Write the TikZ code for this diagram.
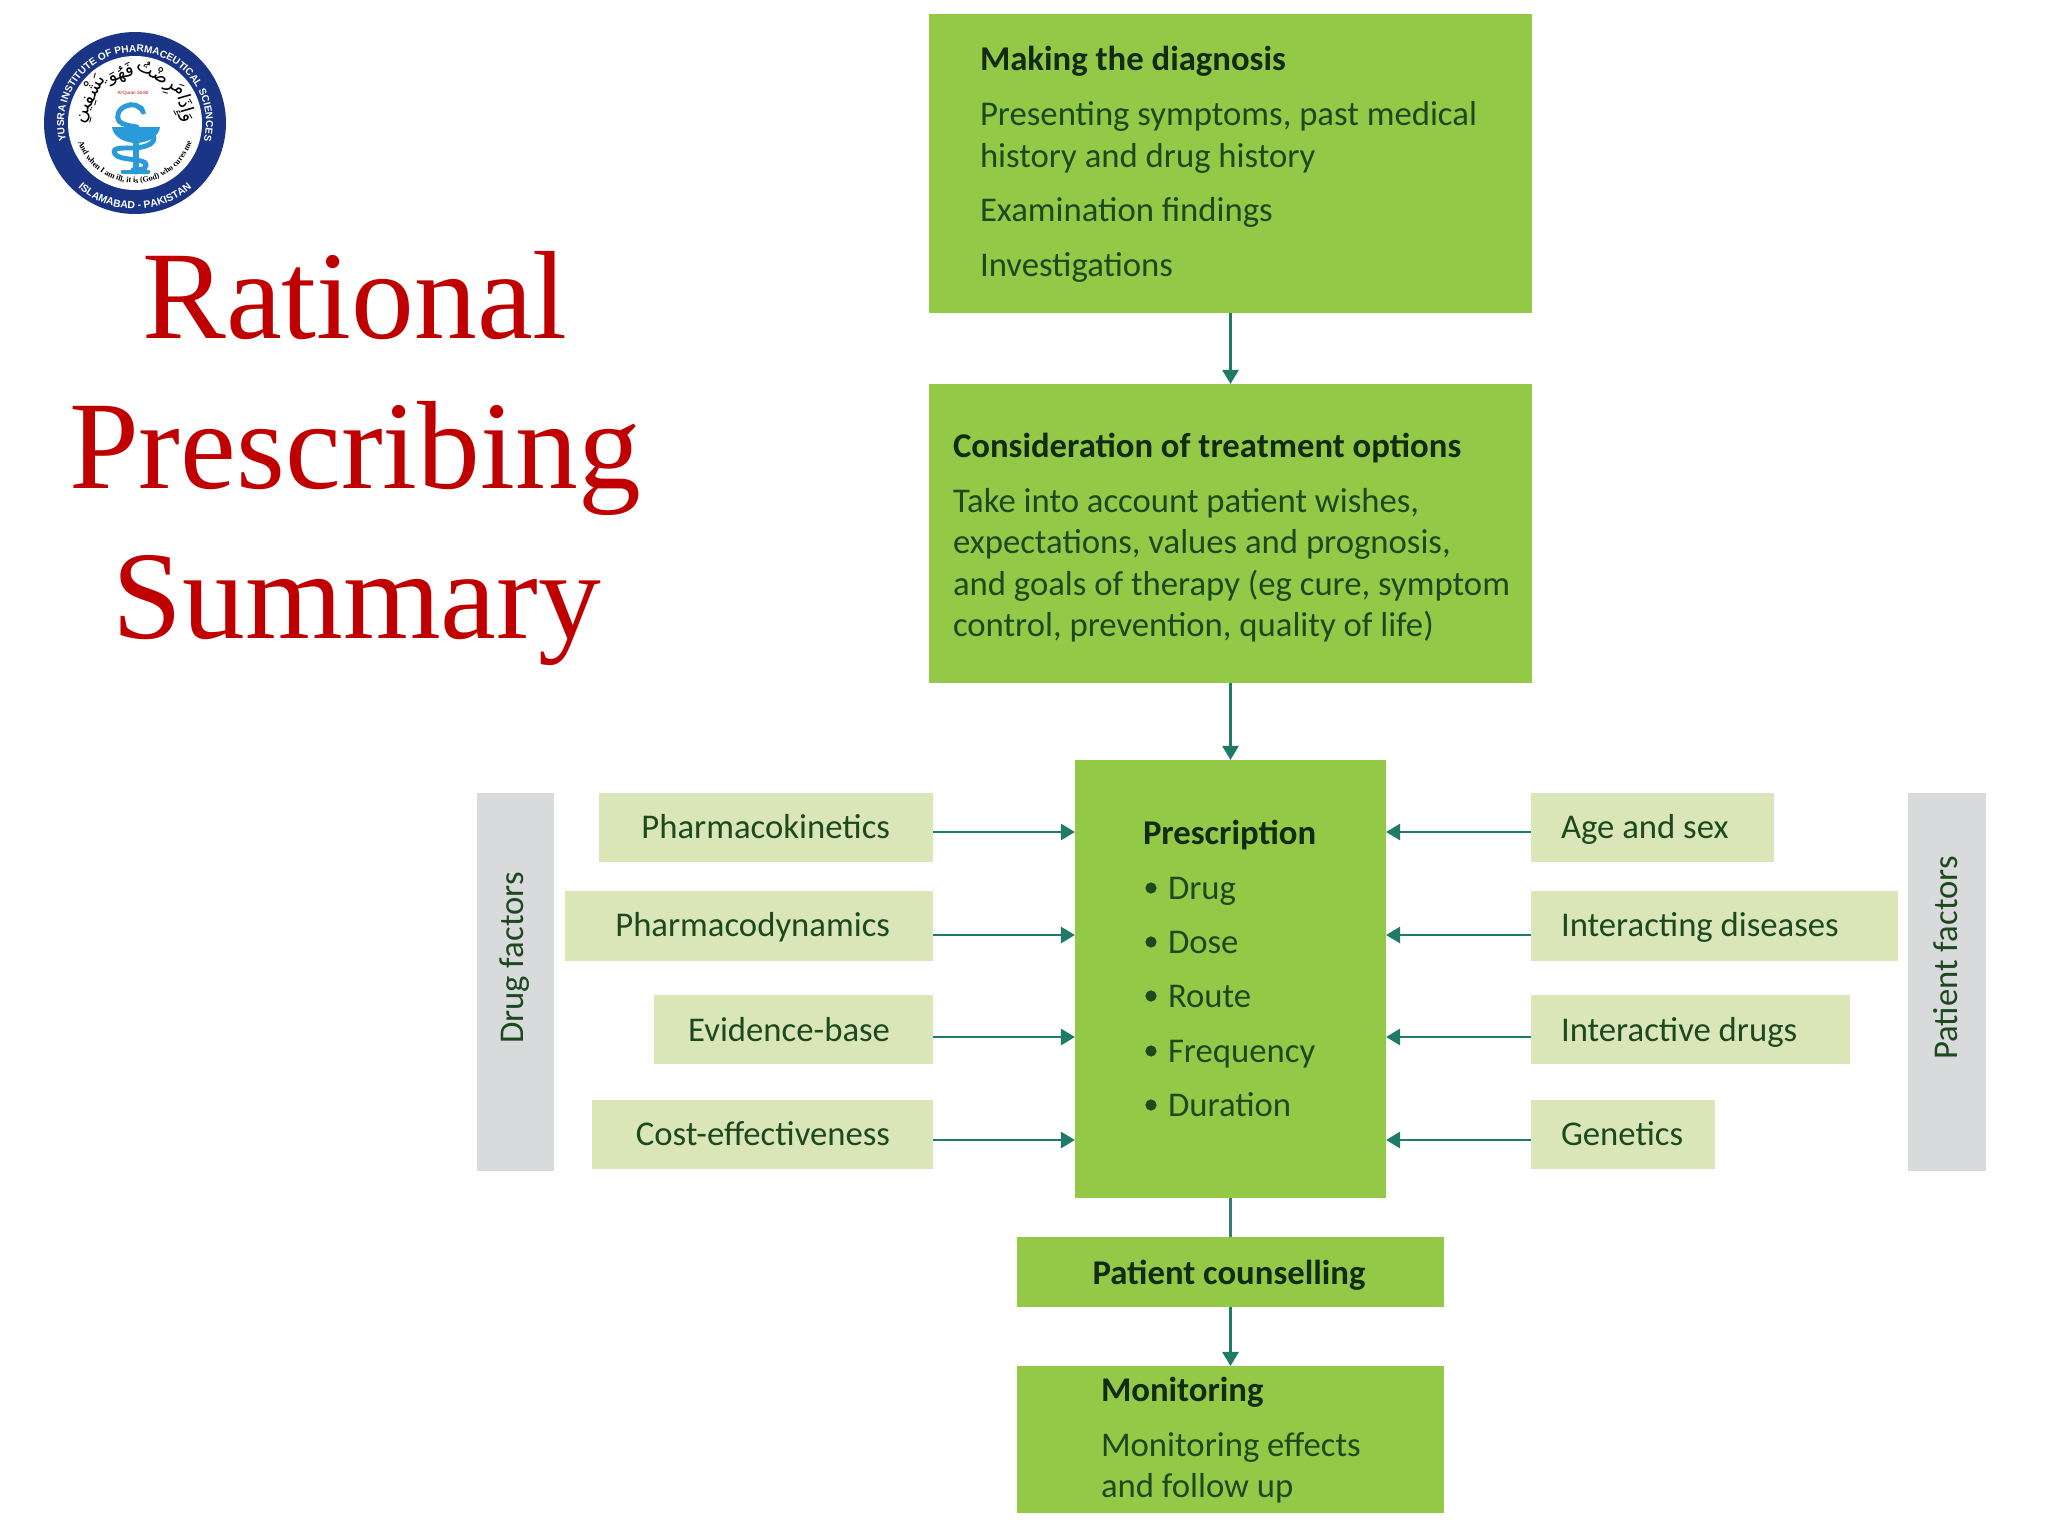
\documentclass[tikz,border=0pt]{standalone}
\usepackage{fontspec}
\usetikzlibrary{arrows.meta,decorations.text}
\setmainfont{Carlito}
\newfontfamily\titlefont{Liberation Serif}
\newfontfamily\logofont{Liberation Sans}
\newfontfamily\arabicfont[Script=Arabic]{DejaVu Sans}
\TeXXeTstate=1
\definecolor{boxgreen}{HTML}{94C948}
\definecolor{palegreen}{HTML}{DAE6B8}
\definecolor{sidegray}{HTML}{D9DADC}
\definecolor{inkgreen}{HTML}{1C4A1E}
\definecolor{arrowteal}{HTML}{1F7A68}
\definecolor{titlered}{HTML}{C00000}
\definecolor{logoblue}{HTML}{1A3585}
\definecolor{emblem}{HTML}{2A9BD8}
\tikzset{
  gbox/.style={fill=boxgreen,inner sep=0pt,outer sep=0pt},
  pbox/.style={fill=palegreen,inner sep=0pt,outer sep=0pt},
  sbox/.style={fill=sidegray,inner sep=0pt,outer sep=0pt},
  txt/.style={anchor=base west,inner sep=0pt,outer sep=0pt,text=inkgreen,font=\fontsize{9.87}{11.8}\selectfont},
  txte/.style={txt,anchor=base east},
  head/.style={txt,font=\fontsize{9.87}{11.8}\selectfont\bfseries,text=black!40!inkgreen},
  ttl/.style={anchor=base,inner sep=0pt,text=titlered,font=\titlefont\fontsize{35.7}{40}\selectfont},
  link/.style={draw=arrowteal,line width=0.75pt,-{Triangle[length=4pt,width=4.6pt]}},
  plainlink/.style={draw=arrowteal!70!gray,line width=1pt},
  snake/.style={emblem,line width=1.4pt,line cap=round},
}
\begin{document}
\begin{tikzpicture}[x=0.01cm,y=-0.01cm]
\useasboundingbox (0,0) rectangle (2048,1536);
\fill[white] (0,0) rectangle (2048,1536);
% logo
\begin{scope}[shift={(135,123)},x=0.01cm,y=0.01cm]
  \fill[logoblue] (0,0) circle (91);
  \fill[white] (0,0) circle (67);
  \path[decorate,decoration={text along path,text align=center,
    text={|\logofont\bfseries\fontsize{2.86}{3}\selectfont\color{white}|YUSRA INSTITUTE OF PHARMACEUTICAL SCIENCES}}]
    (200:71) arc[start angle=200,end angle=-20,radius=71];
  \path[decorate,decoration={text along path,text align=center,
    text={|\logofont\bfseries\fontsize{2.95}{3}\selectfont\color{white}|ISLAMABAD - PAKISTAN}}]
    (220:86) arc[start angle=220,end angle=320,radius=86];
  \path[decorate,decoration={text along path,text align=center,
    text={|\titlefont\bfseries\fontsize{2.3}{3}\selectfont\color{black}|And when I am ill, it is (God) who cures me}}]
    (190:60) arc[start angle=190,end angle=350,radius=60];
  \foreach \a/\w in {16/وَإِذَا,60/مَرِضْتُ,106/فَهُوَ,152/يَشْفِينِ}{
    \pgfmathsetmacro\rr{\a-90}
    \node[inner sep=0pt,rotate=\rr,font=\arabicfont\fontsize{5.2}{6}\selectfont] at (\a:51) {\beginR\w\endR};
  }
  \node[inner sep=0pt,text=red!80!black,font=\logofont\fontsize{1.3}{2}\selectfont] at (-2,30) {Al-Quran 26:80};
  % emblem
  \draw[snake,line width=1.5pt] (1,-20) -- (1,-49);
  \draw[snake] (-12,-49) -- (13,-49);
  \fill[emblem] (-23,-4) -- (25,-4) .. controls (24,-14) and (12,-20) .. (1,-20) .. controls (-10,-20) and (-22,-14) .. (-23,-4) -- cycle;
  \draw[snake] (8,11) .. controls (6,18) and (-4,20) .. (-9,17) .. controls (-17,14) and (-19,6) .. (-16,2) .. controls (-13,-2) and (-4,-3) .. (2,-4);
  \fill[emblem] (2,14) -- (11,9) -- (8,17) -- cycle;
  \draw[snake] (18,-12) .. controls (22,-20) and (12,-24) .. (0,-25) .. controls (-12,-25) and (-24,-24) .. (-20,-31) .. controls (-16,-38) and (12,-35) .. (11,-42) .. controls (11,-47) and (4,-47) .. (-2,-47);
\end{scope}
% title
\node[ttl] (t1) at (355,338) {Rational};
\node[ttl] (t2) at (355,488) {Prescribing};
\node[ttl] (t3) at (357,638) {Summary};
% main boxes
\node[gbox,minimum width=6.03cm,minimum height=2.99cm] (diag) at (1230.5,163.5) {};
\node[gbox,minimum width=6.03cm,minimum height=2.99cm] (opts) at (1230.5,533.5) {};
\node[gbox,minimum width=3.11cm,minimum height=4.38cm] (rx) at (1230.5,979) {};
\node[gbox,minimum width=4.27cm,minimum height=0.70cm] (pc) at (1230.5,1272) {};
\node[gbox,minimum width=4.27cm,minimum height=1.47cm] (mon) at (1230.5,1439.5) {};
% left factor boxes
\node[pbox,minimum width=3.34cm,minimum height=0.69cm] (pk) at (766,827.5) {};
\node[pbox,minimum width=3.68cm,minimum height=0.70cm] (pd) at (749,926) {};
\node[pbox,minimum width=2.79cm,minimum height=0.69cm] (eb) at (793.5,1029.5) {};
\node[pbox,minimum width=3.41cm,minimum height=0.69cm] (ce) at (762.5,1134.5) {};
% right factor boxes
\node[pbox,minimum width=2.43cm,minimum height=0.69cm] (as) at (1652.5,827.5) {};
\node[pbox,minimum width=3.67cm,minimum height=0.70cm] (id) at (1714.5,926) {};
\node[pbox,minimum width=3.19cm,minimum height=0.69cm] (dr) at (1690.5,1029.5) {};
\node[pbox,minimum width=1.84cm,minimum height=0.69cm] (ge) at (1623,1134.5) {};
% side bars
\node[sbox,minimum width=0.77cm,minimum height=3.78cm] (dfb) at (515.5,982) {};
\node[sbox,minimum width=0.78cm,minimum height=3.78cm] (pfb) at (1947,982) {};
\node[inner sep=0pt,rotate=90,text=inkgreen,font=\fontsize{9.87}{11}\selectfont] (dft) at (515,958) {Drug factors};
\node[inner sep=0pt,rotate=90,text=inkgreen,font=\fontsize{9.87}{11}\selectfont] (pft) at (1946,958) {Patient factors};
% connector levels
\coordinate (l1) at (0,832);
\coordinate (l2) at (0,935);
\coordinate (l3) at (0,1037);
\coordinate (l4) at (0,1140);
\draw[link] (diag.south) -- (opts.north);
\draw[link] (opts.south) -- (rx.north);
\draw[plainlink] (rx.south) -- (pc.north);
\draw[link] (pc.south) -- (mon.north);
\foreach \n/\l in {pk/l1,pd/l2,eb/l3,ce/l4}{\draw[link] (\n.east |- \l) -- (rx.west |- \l);}
\foreach \n/\l in {as/l1,id/l2,dr/l3,ge/l4}{\draw[link] (\n.west |- \l) -- (rx.east |- \l);}
% box texts
\node[head] (d0) at (980,70) {Making the diagnosis};
\node[txt] (d1) at (980,125) {Presenting symptoms, past medical};
\node[txt] (d2) at (980,167) {history and drug history};
\node[txt] (d3) at (980,221) {Examination findings};
\node[txt] (d4) at (980,276) {Investigations};
\node[head] (o0) at (953,457) {Consideration of treatment options};
\node[txt] (o1) at (953,512) {Take into account patient wishes,};
\node[txt] (o2) at (953,553) {expectations, values and prognosis,};
\node[txt] (o3) at (953,595) {and goals of therapy (eg cure, symptom};
\node[txt] (o4) at (953,636) {control, prevention, quality of life)};
\node[head] (r0) at (1143,844) {Prescription};
\foreach \nm/\yy/\w in {r1/899/Drug,r2/953/Dose,r3/1007/Route,r4/1062/Frequency,r5/1116/Duration}{
  \node[txt] (\nm) at (1168,\yy) {\w};
  \fill[inkgreen] ([xshift=-0.17cm,yshift=0.11cm]\nm.base west) circle (1.6pt);
}
\node[head,anchor=base] (c0) at (1229,1284) {Patient counselling};
\node[head] (m0) at (1101,1401) {Monitoring};
\node[txt] (m1) at (1101,1456) {Monitoring effects};
\node[txt] (m2) at (1101,1497) {and follow up};
% factor labels
\node[txte] (k1) at (890,838) {Pharmacokinetics};
\node[txte] (k2) at (890,936) {Pharmacodynamics};
\node[txte] (k3) at (890,1041) {Evidence-base};
\node[txte] (k4) at (890,1145) {Cost-effectiveness};
\node[txt] (p1) at (1561,838) {Age and sex};
\node[txt] (p2) at (1561,936) {Interacting diseases};
\node[txt] (p3) at (1561,1041) {Interactive drugs};
\node[txt] (p4) at (1561,1145) {Genetics};
\end{tikzpicture}
\end{document}
